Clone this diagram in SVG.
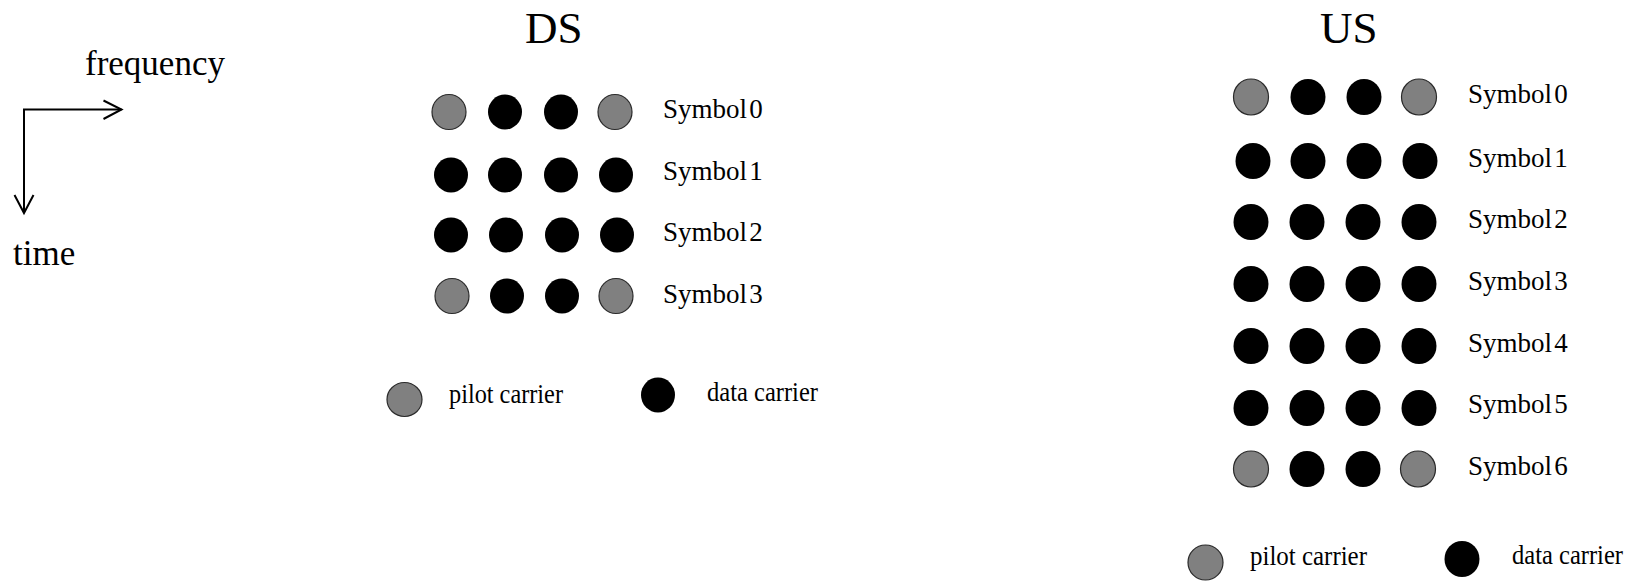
<svg xmlns="http://www.w3.org/2000/svg" width="1635" height="581" viewBox="0 0 1635 581">
<style>
text{font-family:"Liberation Serif","Times New Roman",serif;fill:#000}
.title{font-size:45px}
.axis{font-size:35px}
.sym{font-size:27px;word-spacing:-4.5px}
.leg{font-size:27px}
.p{fill:#808080;stroke:#2a2a2a;stroke-width:1.2}
.d{fill:#000}
.ax{fill:none;stroke:#000;stroke-width:2}
</style>
<rect width="1635" height="581" fill="#fff"/>
<g id="connectors">
<polyline class="ax" points="24,213 24,109.5 121.5,109.5"/>
<polyline class="ax" points="103.5,100.5 121.5,109.5 103.5,119"/>
<polyline class="ax" points="14.5,195 24,213 33.5,195"/>
</g>
<g id="axis-labels">
<text class="axis" x="85" y="75">frequency</text>
<text class="axis" x="13" y="265">time</text>
</g>
<g id="ds">
<text class="title" x="525" y="43">DS</text>
<g id="ds-row0">
<ellipse class="p" cx="449" cy="112" rx="17" ry="17.5"/>
<ellipse class="d" cx="505" cy="112" rx="17" ry="17.5"/>
<ellipse class="d" cx="561" cy="112" rx="17" ry="17.5"/>
<ellipse class="p" cx="615" cy="112" rx="17" ry="17.5"/>
<text class="sym" x="663" y="118">Symbol 0</text>
</g>
<g id="ds-row1">
<ellipse class="d" cx="451" cy="175" rx="17" ry="17.5"/>
<ellipse class="d" cx="505" cy="175" rx="17" ry="17.5"/>
<ellipse class="d" cx="561" cy="175" rx="17" ry="17.5"/>
<ellipse class="d" cx="616" cy="175" rx="17" ry="17.5"/>
<text class="sym" x="663" y="180">Symbol 1</text>
</g>
<g id="ds-row2">
<ellipse class="d" cx="451" cy="235" rx="17" ry="17.5"/>
<ellipse class="d" cx="506" cy="235" rx="17" ry="17.5"/>
<ellipse class="d" cx="562" cy="235" rx="17" ry="17.5"/>
<ellipse class="d" cx="617" cy="235" rx="17" ry="17.5"/>
<text class="sym" x="663" y="241">Symbol 2</text>
</g>
<g id="ds-row3">
<ellipse class="p" cx="452" cy="296" rx="17" ry="17.5"/>
<ellipse class="d" cx="507" cy="296" rx="17" ry="17.5"/>
<ellipse class="d" cx="562" cy="296" rx="17" ry="17.5"/>
<ellipse class="p" cx="616" cy="296" rx="17" ry="17.5"/>
<text class="sym" x="663" y="303">Symbol 3</text>
</g>
<g id="ds-legend">
<ellipse class="p" cx="404.5" cy="399.5" rx="17.5" ry="17"/>
<text class="leg" x="449" y="403" textLength="114" lengthAdjust="spacingAndGlyphs">pilot carrier</text>
<ellipse class="d" cx="658" cy="395" rx="17" ry="17.5"/>
<text class="leg" x="707" y="401" textLength="111" lengthAdjust="spacingAndGlyphs">data carrier</text>
</g>
</g>
<g id="us">
<text class="title" x="1320" y="43">US</text>
<g id="us-row0">
<ellipse class="p" cx="1251" cy="97" rx="17.5" ry="18"/>
<ellipse class="d" cx="1308" cy="97" rx="17.5" ry="18"/>
<ellipse class="d" cx="1364" cy="97" rx="17.5" ry="18"/>
<ellipse class="p" cx="1419" cy="97" rx="17.5" ry="18"/>
<text class="sym" x="1468" y="103">Symbol 0</text>
</g>
<g id="us-row1">
<ellipse class="d" cx="1253" cy="161" rx="17.5" ry="18"/>
<ellipse class="d" cx="1308" cy="161" rx="17.5" ry="18"/>
<ellipse class="d" cx="1364" cy="161" rx="17.5" ry="18"/>
<ellipse class="d" cx="1420" cy="161" rx="17.5" ry="18"/>
<text class="sym" x="1468" y="167">Symbol 1</text>
</g>
<g id="us-row2">
<ellipse class="d" cx="1251" cy="222" rx="17.5" ry="18"/>
<ellipse class="d" cx="1307" cy="222" rx="17.5" ry="18"/>
<ellipse class="d" cx="1363" cy="222" rx="17.5" ry="18"/>
<ellipse class="d" cx="1419" cy="222" rx="17.5" ry="18"/>
<text class="sym" x="1468" y="228">Symbol 2</text>
</g>
<g id="us-row3">
<ellipse class="d" cx="1251" cy="284" rx="17.5" ry="18"/>
<ellipse class="d" cx="1307" cy="284" rx="17.5" ry="18"/>
<ellipse class="d" cx="1363" cy="284" rx="17.5" ry="18"/>
<ellipse class="d" cx="1419" cy="284" rx="17.5" ry="18"/>
<text class="sym" x="1468" y="290">Symbol 3</text>
</g>
<g id="us-row4">
<ellipse class="d" cx="1251" cy="346" rx="17.5" ry="18"/>
<ellipse class="d" cx="1307" cy="346" rx="17.5" ry="18"/>
<ellipse class="d" cx="1363" cy="346" rx="17.5" ry="18"/>
<ellipse class="d" cx="1419" cy="346" rx="17.5" ry="18"/>
<text class="sym" x="1468" y="352">Symbol 4</text>
</g>
<g id="us-row5">
<ellipse class="d" cx="1251" cy="408" rx="17.5" ry="18"/>
<ellipse class="d" cx="1307" cy="408" rx="17.5" ry="18"/>
<ellipse class="d" cx="1363" cy="408" rx="17.5" ry="18"/>
<ellipse class="d" cx="1419" cy="408" rx="17.5" ry="18"/>
<text class="sym" x="1468" y="413">Symbol 5</text>
</g>
<g id="us-row6">
<ellipse class="p" cx="1251" cy="469" rx="17.5" ry="18"/>
<ellipse class="d" cx="1307" cy="469" rx="17.5" ry="18"/>
<ellipse class="d" cx="1363" cy="469" rx="17.5" ry="18"/>
<ellipse class="p" cx="1418" cy="469" rx="17.5" ry="18"/>
<text class="sym" x="1468" y="475">Symbol 6</text>
</g>
<g id="us-legend">
<ellipse class="p" cx="1205.5" cy="562.5" rx="17.5" ry="17.5"/>
<text class="leg" x="1250" y="565" textLength="117" lengthAdjust="spacingAndGlyphs">pilot carrier</text>
<ellipse class="d" cx="1462" cy="559" rx="17.5" ry="18"/>
<text class="leg" x="1512" y="564" textLength="111" lengthAdjust="spacingAndGlyphs">data carrier</text>
</g>
</g>
</svg>
